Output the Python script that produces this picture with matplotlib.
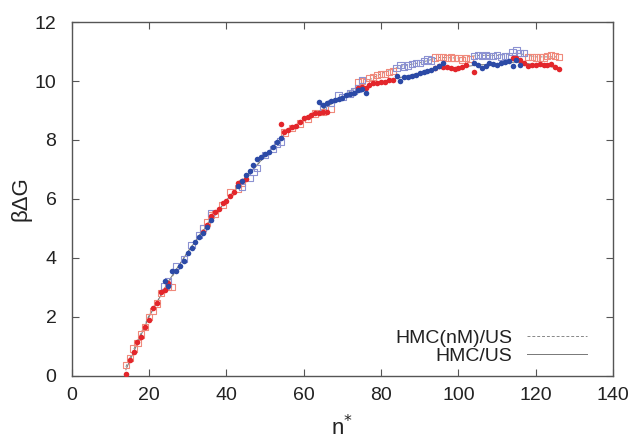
import matplotlib
matplotlib.use("Agg")
import matplotlib.pyplot as plt
from matplotlib.lines import Line2D

plt.rcParams['font.family'] = ['Liberation Sans', 'DejaVu Sans']

# ---- filled circles (HMC/US), alternating umbrella windows ----
red_dot_n = [14, 15, 16, 17, 18, 19, 20, 21, 22, 23, 24, 25,
             34, 35, 36, 37, 38, 39, 40, 41, 42, 43, 44, 45,
             54, 55, 56, 57, 58, 59, 60, 61, 62, 63, 64, 65, 66,
             74, 75, 76, 77, 78, 79, 80, 81, 82, 83,
             94, 95, 96, 97, 98, 99, 100, 101, 102, 104,
             114, 115, 116, 117, 118, 119, 120, 121, 122, 123, 124, 125, 126]
red_dot_y = [0.06, 0.53, 0.81, 1.15, 1.30, 1.66, 1.89, 2.29, 2.48, 2.83, 2.91, 3.16,
             4.88, 5.10, 5.42, 5.57, 5.65, 5.85, 5.93, 6.10, 6.24, 6.53, 6.62, 6.66,
             8.53, 8.28, 8.35, 8.45, 8.48, 8.62, 8.73, 8.78, 8.85, 8.90, 8.93, 8.95, 8.96,
             9.75, 9.80, 9.78, 9.86, 9.92, 9.94, 9.97, 9.97, 10.03, 10.05,
             10.45, 10.51, 10.48, 10.46, 10.43, 10.42, 10.43, 10.48, 10.54, 10.31,
             10.77, 10.77, 10.71, 10.60, 10.51, 10.54, 10.54, 10.57, 10.54, 10.54, 10.57, 10.48, 10.40]

blue_dot_n = [24, 25, 26, 27, 28, 29, 30, 31, 32, 33, 34, 35, 36,
              43, 44, 45, 46, 47, 48, 49, 50, 51, 52, 53, 54,
              64, 65, 66, 67, 68, 69, 70, 71, 72, 73, 74, 75, 76,
              84, 85, 86, 87, 88, 89, 90, 91, 92, 93, 94, 95, 96,
              104, 105, 106, 107, 108, 109, 110, 111, 112, 113, 114, 115, 116]
blue_dot_y = [3.23, 3.04, 3.56, 3.56, 3.72, 3.89, 4.15, 4.32, 4.55, 4.72, 4.85, 5.05, 5.30,
              6.44, 6.60, 6.81, 6.94, 7.15, 7.34, 7.41, 7.52, 7.60, 7.77, 7.92, 8.05,
              9.30, 9.18, 9.26, 9.33, 9.36, 9.38, 9.44, 9.52, 9.56, 9.60, 9.69, 9.72, 9.58,
              10.17, 10.00, 10.12, 10.14, 10.17, 10.21, 10.28, 10.30, 10.35, 10.37, 10.43, 10.52, 10.60,
              10.62, 10.54, 10.43, 10.51, 10.60, 10.57, 10.54, 10.62, 10.65, 10.68, 10.51, 10.71, 10.54]

# ---- open squares (HMC(nM)/US) ----
red_sq_n = [14, 15, 16, 17, 18, 19, 20, 21, 22, 23, 25, 26,
            34, 35, 36, 37, 39, 41, 43, 44,
            55, 57, 59, 61, 63, 65, 67,
            74, 75, 76, 77, 78, 79, 80, 81, 82, 83,
            94, 95, 96, 97, 98, 99, 100, 101, 102, 103,
            118, 119, 120, 121, 122, 123, 124, 125, 126]
red_sq_y = [0.35, 0.60, 0.92, 1.10, 1.40, 1.65, 2.00, 2.20, 2.45, 2.80, 3.00, 3.02,
            5.00, 5.20, 5.45, 5.50, 5.80, 6.24, 6.35, 6.53,
            8.25, 8.40, 8.56, 8.72, 8.90, 8.96, 9.05,
            9.97, 10.00, 9.95, 10.09, 10.14, 10.20, 10.25, 10.25, 10.31, 10.35,
            10.80, 10.82, 10.82, 10.77, 10.80, 10.78, 10.77, 10.71, 10.77, 10.75,
            10.82, 10.82, 10.80, 10.80, 10.80, 10.85, 10.88, 10.85, 10.82]

blue_sq_n = [24, 25, 27, 29, 31, 33, 34, 36,
             44, 46, 47, 48, 50, 52, 53, 54,
             65, 67, 69, 70, 72, 73, 74, 75,
             84, 85, 86, 87, 88, 89, 90, 91, 92, 93,
             104, 105, 106, 107, 108, 109, 110, 111, 112, 113, 114, 115, 116, 117]
blue_sq_y = [3.05, 3.20, 3.72, 3.95, 4.43, 4.77, 5.00, 5.53,
             6.40, 6.70, 6.90, 7.05, 7.50, 7.70, 7.86, 7.95,
             9.10, 9.25, 9.52, 9.45, 9.58, 9.65, 9.75, 10.03,
             10.45, 10.54, 10.48, 10.53, 10.57, 10.60, 10.62, 10.69, 10.73, 10.70,
             10.85, 10.88, 10.85, 10.88, 10.85, 10.86, 10.88, 10.82, 10.85, 10.85, 10.99, 11.05, 10.94, 10.94]

# ---- thin reference curves (legend entries) ----
line_n = [14, 20, 25, 30, 35, 40, 45, 50, 55, 60, 65, 70, 75, 80, 85, 90, 95, 100, 105, 110, 115, 120, 126]
hmc_us_y = [0.20, 2.00, 3.20, 4.20, 5.10, 5.95, 6.75, 7.45, 8.20, 8.70, 9.05, 9.45, 9.75, 9.97,
            10.12, 10.28, 10.45, 10.45, 10.55, 10.57, 10.65, 10.55, 10.45]
hmc_nm_us_y = [0.30, 2.05, 3.15, 4.20, 5.15, 5.95, 6.70, 7.45, 8.20, 8.65, 9.05, 9.50, 9.90, 10.25,
               10.50, 10.62, 10.80, 10.78, 10.87, 10.87, 10.95, 10.82, 10.82]

x_ticks = [0, 20, 40, 60, 80, 100, 120, 140]
y_ticks = [0, 2, 4, 6, 8, 10, 12]

RED = '#e3262b'
BLUE = '#2c4aa6'
RED_SQ = '#f08a7c'
BLUE_SQ = '#8c92d2'
AX_COL = '#555555'
TXT = '#222222'

fig = plt.figure(figsize=(6.38, 4.42), dpi=100)
ax = fig.add_axes([0.1124, 0.150, 0.8486, 0.800])

ax.plot(line_n, hmc_nm_us_y, color='#888888', lw=0.7, ls=(0, (3, 2)), zorder=1)
ax.plot(line_n, hmc_us_y, color='#777777', lw=0.7, ls='-', zorder=1)

ax.scatter(red_sq_n, red_sq_y, marker='s', s=20, facecolors='none', edgecolors=RED_SQ, linewidths=0.8, zorder=2)
ax.scatter(blue_sq_n, blue_sq_y, marker='s', s=20, facecolors='none', edgecolors=BLUE_SQ, linewidths=0.8, zorder=2)
ax.scatter(red_dot_n, red_dot_y, marker='o', s=16, color=RED, linewidths=0, zorder=3)
ax.scatter(blue_dot_n, blue_dot_y, marker='o', s=16, color=BLUE, linewidths=0, zorder=3)

ax.set_xlim(0, 140)
ax.set_ylim(0, 12)
ax.set_xticks(x_ticks)
ax.set_yticks(y_ticks)
ax.tick_params(direction='in', length=5, width=0.8, color=AX_COL, top=True, right=True,
               labelsize=14, labelcolor=TXT)
ax.tick_params(axis='x', pad=8)
ax.tick_params(axis='y', pad=11)
for sp in ax.spines.values():
    sp.set_color(AX_COL)
    sp.set_linewidth(1.0)

ax.set_ylabel('βΔG', fontsize=16, color=TXT, labelpad=2)
ax.set_xlabel('n$^{*}$', fontsize=16, color=TXT, labelpad=8)

handles = [Line2D([], [], color='#888888', lw=0.7, ls=(0, (3, 2))),
           Line2D([], [], color='#777777', lw=0.7, ls='-')]
leg = ax.legend(handles, ['HMC(nM)/US', 'HMC/US'], loc='lower right',
                bbox_to_anchor=(0.952, 0.03), frameon=False, fontsize=14,
                markerfirst=False, handlelength=3.1, handletextpad=0.75,
                labelspacing=0.05, borderpad=0, borderaxespad=0)
for t in leg.get_texts():
    t.set_color(TXT)

fig.savefig('out.png', dpi=100)
